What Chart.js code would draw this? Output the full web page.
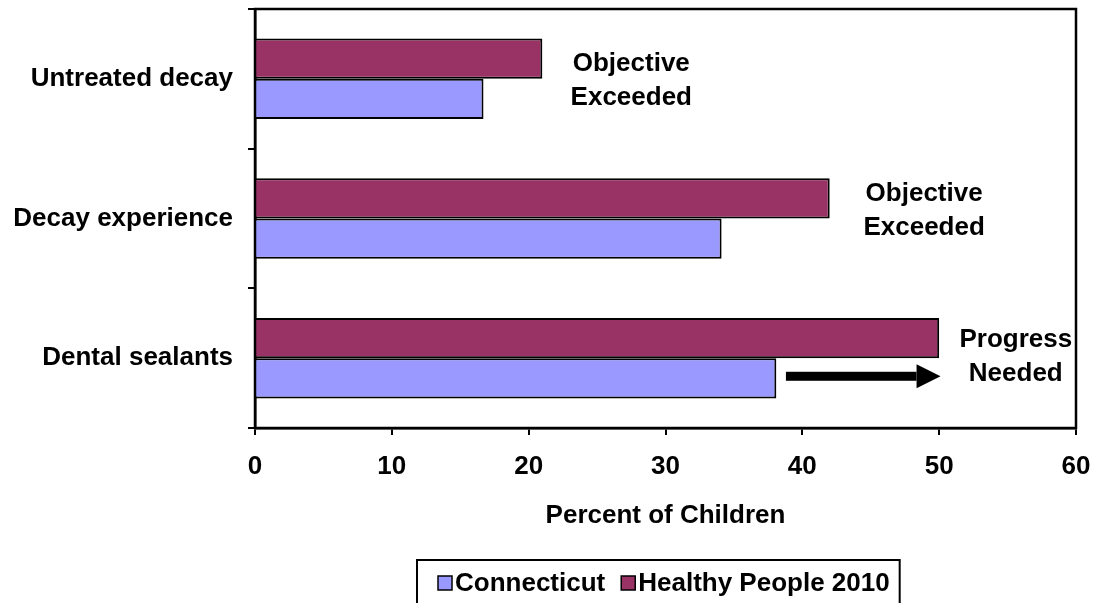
<!DOCTYPE html>
<html>
<head>
<meta charset="utf-8">
<script src="https://cdn.jsdelivr.net/npm/chart.js@4/dist/chart.umd.min.js"></script>
<style>
    html, body { margin: 0; padding: 0; background: #fff; }
    #wrap { width: 1094px; height: 603px; position: relative; }
</style>
</head>
<body>
<div id="wrap"><canvas id="grafica" width="1094" height="603"></canvas></div>
<script>
var CATEGORIAS = ['Untreated decay', 'Decay experience', 'Dental sealants'];
var CONNECTICUT = [16.7, 34.1, 38.1];
var HEALTHY_PEOPLE = [21, 42, 50];
var TICKS_X = [0, 10, 20, 30, 40, 50, 60];
var NOTAS = [
    ['Objective', 'Exceeded'],
    ['Objective', 'Exceeded'],
    ['Progress', 'Needed'],
];
var NOTAS_X = [27.5, 48.9, 55.6];
var FLECHA = [38.8, 50.1]; // desde / hasta, en la fila de Dental sealants

var FUENTE = '"Liberation Sans", Arial, sans-serif';
var TAM = 26;

var COLOR_CT = '#9999ff';
var COLOR_HP = '#993366';

var extras = {
    id: 'extras',
    afterDraw: function (chart) {
        var ctx = chart.ctx;
        var area = chart.chartArea;
        var x = chart.scales.x;
        var y = chart.scales.y;

        ctx.save();

        // marco del area de trazado
        ctx.strokeStyle = '#000';
        ctx.lineWidth = 2.5;
        ctx.strokeRect(area.left, area.top, area.right - area.left, area.bottom - area.top);

        // notas de texto
        ctx.fillStyle = '#000';
        ctx.font = 'bold ' + TAM + 'px ' + FUENTE;
        ctx.textAlign = 'center';
        ctx.textBaseline = 'middle';
        var ajusteY = [2, -8, -1];
        NOTAS.forEach(function (lineas, i) {
            var cx = x.getPixelForValue(NOTAS_X[i]);
            var cy = y.getPixelForValue(i) + ajusteY[i];
            ctx.fillText(lineas[0], cx, cy - 17);
            ctx.fillText(lineas[1], cx, cy + 17);
        });

        // flecha
        var barra = chart.getDatasetMeta(1).data[2];
        var fy = barra.y - 2;
        var x0 = x.getPixelForValue(FLECHA[0]);
        var x1 = x.getPixelForValue(FLECHA[1]);
        ctx.fillRect(x0, fy - 4.5, (x1 - 24) - x0, 9);
        ctx.beginPath();
        ctx.moveTo(x1 - 24, fy - 12);
        ctx.lineTo(x1, fy);
        ctx.lineTo(x1 - 24, fy + 12);
        ctx.closePath();
        ctx.fill();

        // leyenda
        var lx = 417;
        var ly = 560;
        var items = [['Connecticut', COLOR_CT], ['Healthy People 2010', COLOR_HP]];
        ctx.textAlign = 'left';
        var px = lx + 21;
        items.forEach(function (it) {
            ctx.fillStyle = it[1];
            ctx.fillRect(px, 576, 14, 14);
            ctx.strokeStyle = '#000';
            ctx.lineWidth = 1.5;
            ctx.strokeRect(px, 576, 14, 14);
            ctx.fillStyle = '#000';
            ctx.fillText(it[0], px + 17, 584);
            px += 17 + ctx.measureText(it[0]).width + 16;
        });
        ctx.lineWidth = 2;
        ctx.strokeRect(lx, ly, px - lx - 6, 60);

        ctx.restore();
    },
};

new Chart(document.getElementById('grafica'), {
    type: 'bar',
    data: {
        labels: CATEGORIAS,
        datasets: [{
            label: 'Healthy People 2010',
            data: HEALTHY_PEOPLE,
            backgroundColor: COLOR_HP,
            borderColor: '#000',
            borderWidth: 2,
            categoryPercentage: 0.576,
            barPercentage: 1,
        }, {
            label: 'Connecticut',
            data: CONNECTICUT,
            backgroundColor: COLOR_CT,
            borderColor: '#000',
            borderWidth: 2,
            categoryPercentage: 0.576,
            barPercentage: 1,
        }],
    },
    options: {
        indexAxis: 'y',
        responsive: false,
        animation: false,
        devicePixelRatio: 1,
        layout: {padding: {top: 9, right: 18, left: 0, bottom: 0}},
        plugins: {
            legend: {display: false},
            tooltip: {enabled: false},
        },
        scales: {
            x: {
                min: 0,
                max: 60,
                afterBuildTicks: function (axis) {
                    axis.ticks = TICKS_X.map(function (v) { return {value: v}; });
                },
                afterFit: function (axis) {
                    axis.height = 175;
                    axis.paddingLeft = 0;
                    axis.paddingRight = 0;
                },
                border: {color: '#000', width: 2.5},
                grid: {drawOnChartArea: false, drawTicks: true, tickLength: 7, color: '#000', lineWidth: 2},
                ticks: {color: '#000', padding: 16, font: {family: FUENTE, size: TAM, weight: 'bold'}},
                title: {
                    display: true,
                    text: 'Percent of Children',
                    color: '#000',
                    font: {family: FUENTE, size: TAM, weight: 'bold'},
                    padding: {top: 0, bottom: 72},
                },
            },
            y: {
                afterFit: function (axis) {
                    axis.width = 255;
                    axis.paddingTop = 0;
                    axis.paddingBottom = 0;
                },
                border: {color: '#000', width: 2.5},
                grid: {drawOnChartArea: false, drawTicks: true, tickLength: 7, color: '#000', lineWidth: 2},
                ticks: {color: '#000', padding: 15, font: {family: FUENTE, size: TAM, weight: 'bold'}},
            },
        },
    },
    plugins: [extras],
});
</script>
</body>
</html>
